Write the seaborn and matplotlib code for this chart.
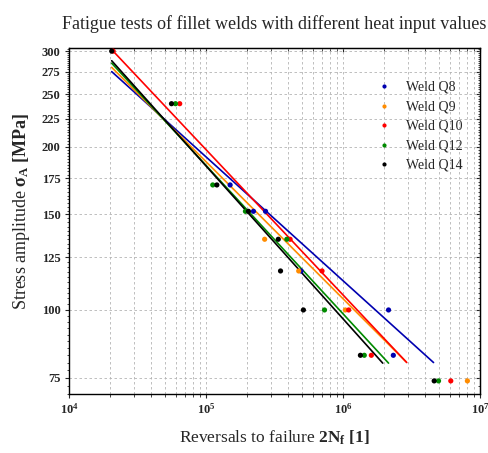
import math
import pandas as pd
import seaborn as sns
import matplotlib.pyplot as plt
from matplotlib.ticker import FixedLocator, MultipleLocator, LogLocator, NullFormatter, FixedFormatter

# weld series and colours
welds = ["Weld Q8", "Weld Q9", "Weld Q10", "Weld Q12", "Weld Q14"]
colors = ["#0000b0", "#ff8c00", "#ff0000", "#008a00", "#000000"]

# test results: reversals to failure 2Nf and stress amplitude [MPa]
q8_n = [1.50e5, 2.22e5, 2.72e5, 4.94e5, 2.15e6, 2.33e6]
q8_s = [170, 152, 152, 118, 100, 82.5]
q9_n = [2.68e5, 4.75e5, 1.04e6, 8.09e6]
q9_s = [135, 118, 100, 74]
q10_n = [2.10e4, 6.43e4, 4.11e5, 7.03e5, 1.10e6, 1.61e6, 6.12e6]
q10_s = [300, 240, 135, 118, 100, 82.5, 74]
q12_n = [5.99e4, 1.12e5, 1.94e5, 3.89e5, 7.33e5, 1.43e6, 4.98e6]
q12_s = [240, 170, 152, 135, 100, 82.5, 74]
q14_n = [2.05e4, 5.60e4, 1.20e5, 2.04e5, 3.37e5, 3.50e5, 5.14e5, 1.34e6, 4.63e6]
q14_s = [300, 240, 170, 152, 135, 118, 100, 82.5, 74]

# fitted S-N lines (start and end point of each)
fit_n0 = [2.05e4, 2.05e4, 2.10e4, 2.05e4, 2.05e4]
fit_s0 = [275, 280, 300, 285, 288]
fit_n1 = [4.58e6, 2.88e6, 2.92e6, 2.15e6, 1.95e6]
fit_s1 = [80, 80.3, 80, 79.8, 79.8]

y_major = [75, 100, 125, 150, 175, 200, 225, 250, 275, 300]

tests = pd.concat([
    pd.DataFrame({"weld": w, "N": n, "S": s})
    for w, n, s in zip(welds, [q8_n, q9_n, q10_n, q12_n, q14_n],
                       [q8_s, q9_s, q10_s, q12_s, q14_s])
], ignore_index=True)

fits = pd.DataFrame({
    "weld": welds + welds,
    "N": fit_n0 + fit_n1,
    "S": fit_s0 + fit_s1,
})

sns.set_style("ticks")
plt.rcParams['font.family'] = ['Liberation Serif', 'DejaVu Serif']
plt.rcParams['mathtext.fontset'] = 'custom'
plt.rcParams['mathtext.rm'] = 'Liberation Serif'
plt.rcParams['mathtext.bf'] = 'Liberation Serif:bold'
plt.rcParams['mathtext.it'] = 'Liberation Serif:italic'

fig = plt.figure(figsize=(4.88, 4.53), dpi=100)
ax = fig.add_axes([69 / 488, 59 / 453, 411 / 488, 346 / 453])

pal = dict(zip(welds, colors))
sns.lineplot(data=fits, x="N", y="S", hue="weld", palette=pal, estimator=None,
             sort=False, legend=False, linewidth=1.2, ax=ax, zorder=2)
sns.scatterplot(data=tests, x="N", y="S", hue="weld", hue_order=welds, palette=pal,
                s=14, linewidth=0, ax=ax, zorder=3)

ax.set_xscale("log")
ax.set_yscale("log")
ax.set_xlim(1e4, 1e7)
ax.set_ylim(70, 304)

ax.xaxis.set_major_locator(LogLocator(base=10, numticks=10))
ax.xaxis.set_minor_locator(LogLocator(base=10, subs=range(2, 10), numticks=20))
ax.xaxis.set_minor_formatter(NullFormatter())
ax.xaxis.set_major_formatter(plt.FuncFormatter(lambda v, p: r"$\mathbf{10^{%d}}$" % round(math.log10(v))))
ax.yaxis.set_major_locator(FixedLocator(y_major))
ax.yaxis.set_major_formatter(FixedFormatter([str(v) for v in y_major]))
ax.yaxis.set_minor_locator(MultipleLocator(2.5))
ax.yaxis.set_minor_formatter(NullFormatter())

ax.grid(True, which="major", axis="both", color="#b4b4b4", linestyle=(0, (3, 3)), linewidth=0.6)
ax.grid(True, which="minor", axis="x", color="#b4b4b4", linestyle=(0, (3, 3)), linewidth=0.6)

ax.tick_params(which="major", direction="out", length=3, width=0.8, labelsize=9, pad=3)
ax.tick_params(which="minor", direction="out", length=1.8, width=0.6)
for lbl in ax.get_xticklabels() + ax.get_yticklabels():
    lbl.set_fontweight("bold")

# inward ticks on top and right
top = ax.secondary_xaxis("top")
top.xaxis.set_major_locator(LogLocator(base=10, numticks=10))
top.xaxis.set_minor_locator(LogLocator(base=10, subs=range(2, 10), numticks=20))
top.tick_params(which="major", direction="in", length=3, width=0.8, labeltop=False)
top.tick_params(which="minor", direction="in", length=1.8, width=0.6)
right = ax.secondary_yaxis("right")
right.yaxis.set_major_locator(FixedLocator(y_major))
right.yaxis.set_minor_locator(MultipleLocator(2.5))
right.yaxis.set_minor_formatter(NullFormatter())
right.tick_params(which="major", direction="in", length=3, width=0.8, labelright=False)
right.tick_params(which="minor", direction="in", length=1.8, width=0.6)

for sp in ax.spines.values():
    sp.set_linewidth(1.0)
    sp.set_color("black")

ax.set_xlabel(r"Reversals to failure $\mathbf{2N_f}$ $\mathbf{[1]}$", fontsize=12.5)
ax.set_ylabel(r"Stress amplitude $\mathbf{\sigma_A}$ $\mathbf{[MPa]}$", fontsize=13)
ax.xaxis.set_label_coords(0.5, -0.10)
ax.yaxis.set_label_coords(-0.09, 0.529)
ax.set_title("Fatigue tests of fillet welds with different heat input values", fontsize=13, pad=14)

sns.move_legend(ax, "upper left", bbox_to_anchor=(0.749, 0.905), frameon=False, title=None,
                fontsize=10, markerscale=0.8, handlelength=1.0, handletextpad=1.1,
                labelspacing=0.47, borderpad=0, borderaxespad=0)

fig.savefig("out.png", dpi=100)
